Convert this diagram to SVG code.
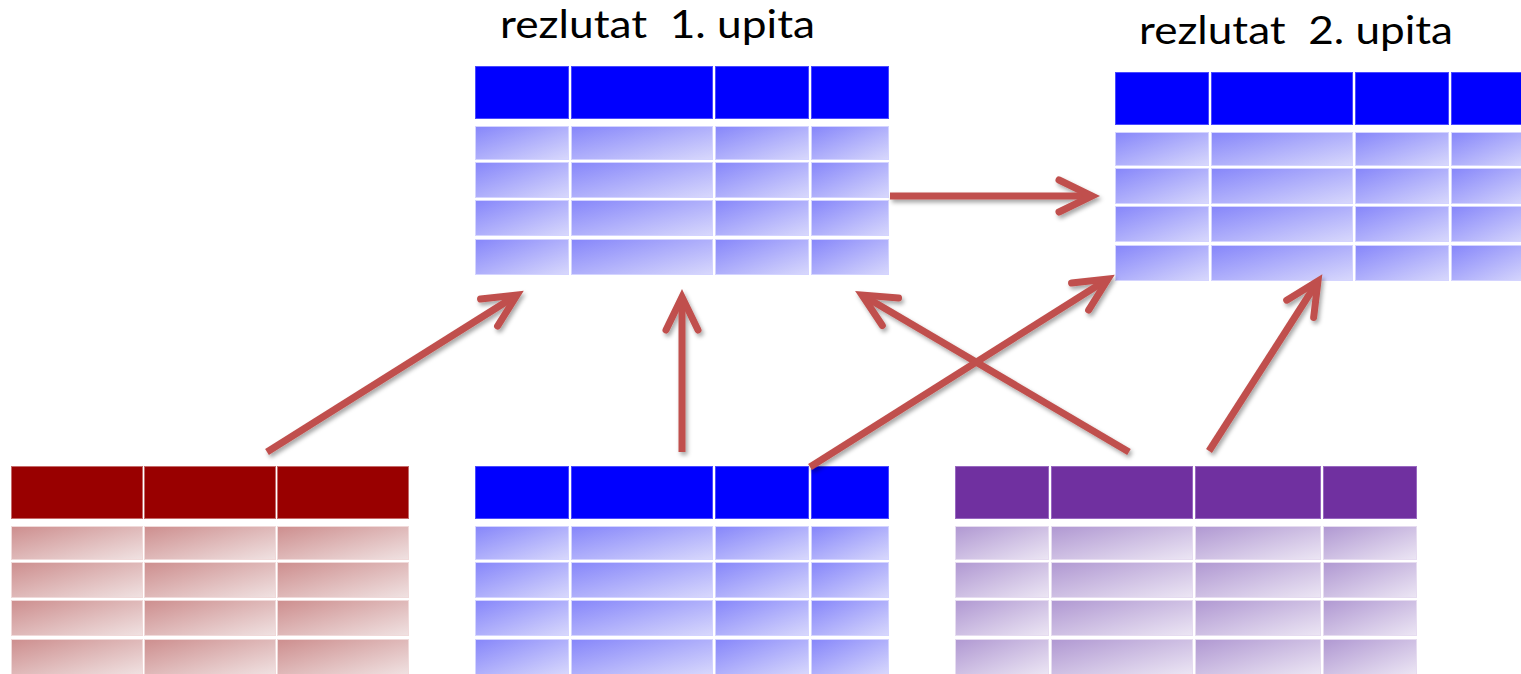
<svg xmlns="http://www.w3.org/2000/svg" width="1521" height="674" viewBox="0 0 1521 674">
<style>
.lbl{font-family:Lato,"Open Sans","Liberation Sans",sans-serif;font-size:38px;font-weight:400;fill:#000;white-space:pre}
.hb{fill:#0000FF;stroke:#4A4AFF;stroke-width:1}
.rb{fill:url(#gb);stroke:#D4D4FF;stroke-width:1}
.hr{fill:#990000;stroke:#C46A6A;stroke-width:1}
.rr{fill:url(#gr);stroke:#F0DADA;stroke-width:1}
.hp{fill:#7030A0;stroke:#9868C0;stroke-width:1}
.rp{fill:url(#gp);stroke:#E6DCF0;stroke-width:1}
.arr{fill:none;stroke:#C0504D;stroke-width:7;stroke-linecap:butt;marker-end:url(#ah)}
</style>
<defs>
<linearGradient id="gb" x1="0" y1="0" x2="1" y2="1"><stop offset="0" stop-color="#8686FA"/><stop offset="1" stop-color="#D8D8FC"/></linearGradient>
<linearGradient id="gr" x1="0" y1="0" x2="1" y2="1"><stop offset="0" stop-color="#CD8E8E"/><stop offset="1" stop-color="#F0E2E2"/></linearGradient>
<linearGradient id="gp" x1="0" y1="0" x2="1" y2="1"><stop offset="0" stop-color="#B098D2"/><stop offset="1" stop-color="#ECE6F4"/></linearGradient>
<marker id="ah" markerUnits="userSpaceOnUse" viewBox="-50 -30 60 60" refX="0" refY="0" markerWidth="60" markerHeight="60" orient="auto">
<path d="M-33,-16 L0,0 L-33,16" fill="none" stroke="#C0504D" stroke-width="7" stroke-linecap="round" stroke-linejoin="miter" stroke-miterlimit="10"/>
</marker>
<filter id="sh" x="-20%" y="-20%" width="140%" height="140%"><feDropShadow dx="2" dy="3" stdDeviation="2" flood-color="#000" flood-opacity="0.35"/></filter>
<g id="bluetable">
<rect class="hb" x="475.5" y="66.5" width="93" height="52"/>
<rect class="hb" x="571.5" y="66.5" width="141" height="52"/>
<rect class="hb" x="715.5" y="66.5" width="93" height="52"/>
<rect class="hb" x="811.5" y="66.5" width="77" height="52"/>
<rect class="rb" x="475.5" y="126.5" width="93" height="33"/>
<rect class="rb" x="571.5" y="126.5" width="141" height="33"/>
<rect class="rb" x="715.5" y="126.5" width="93" height="33"/>
<rect class="rb" x="811.5" y="126.5" width="77" height="33"/>
<rect class="rb" x="475.5" y="162.5" width="93" height="35"/>
<rect class="rb" x="571.5" y="162.5" width="141" height="35"/>
<rect class="rb" x="715.5" y="162.5" width="93" height="35"/>
<rect class="rb" x="811.5" y="162.5" width="77" height="35"/>
<rect class="rb" x="475.5" y="200.5" width="93" height="35"/>
<rect class="rb" x="571.5" y="200.5" width="141" height="35"/>
<rect class="rb" x="715.5" y="200.5" width="93" height="35"/>
<rect class="rb" x="811.5" y="200.5" width="77" height="35"/>
<rect class="rb" x="475.5" y="239.5" width="93" height="35"/>
<rect class="rb" x="571.5" y="239.5" width="141" height="35"/>
<rect class="rb" x="715.5" y="239.5" width="93" height="35"/>
<rect class="rb" x="811.5" y="239.5" width="77" height="35"/>
</g>
</defs>
<rect width="1521" height="674" fill="#fff"/>
<g id="label1"><text class="lbl" x="500" y="38" textLength="315" lengthAdjust="spacingAndGlyphs">rezlutat  1. upita</text></g>
<g id="label2"><text class="lbl" x="1139" y="44" textLength="314" lengthAdjust="spacingAndGlyphs">rezlutat  2. upita</text></g>
<g id="result1"><use href="#bluetable"/></g>
<g id="result2"><use href="#bluetable" transform="translate(640,6)"/></g>
<g id="table-blue"><use href="#bluetable" transform="translate(0,400)"/></g>
<g id="table-red">
<rect class="hr" x="11.5" y="466.5" width="131" height="52"/>
<rect class="hr" x="144.5" y="466.5" width="131" height="52"/>
<rect class="hr" x="277.5" y="466.5" width="131" height="52"/>
<rect class="rr" x="11.5" y="526.5" width="131" height="33"/>
<rect class="rr" x="144.5" y="526.5" width="131" height="33"/>
<rect class="rr" x="277.5" y="526.5" width="131" height="33"/>
<rect class="rr" x="11.5" y="562.5" width="131" height="35"/>
<rect class="rr" x="144.5" y="562.5" width="131" height="35"/>
<rect class="rr" x="277.5" y="562.5" width="131" height="35"/>
<rect class="rr" x="11.5" y="600.5" width="131" height="35"/>
<rect class="rr" x="144.5" y="600.5" width="131" height="35"/>
<rect class="rr" x="277.5" y="600.5" width="131" height="35"/>
<rect class="rr" x="11.5" y="639.5" width="131" height="35"/>
<rect class="rr" x="144.5" y="639.5" width="131" height="35"/>
<rect class="rr" x="277.5" y="639.5" width="131" height="35"/>
</g>
<g id="table-purple">
<rect class="hp" x="955.5" y="466.5" width="93" height="52"/>
<rect class="hp" x="1051.5" y="466.5" width="141" height="52"/>
<rect class="hp" x="1195.5" y="466.5" width="125" height="52"/>
<rect class="hp" x="1323.5" y="466.5" width="93" height="52"/>
<rect class="rp" x="955.5" y="526.5" width="93" height="33"/>
<rect class="rp" x="1051.5" y="526.5" width="141" height="33"/>
<rect class="rp" x="1195.5" y="526.5" width="125" height="33"/>
<rect class="rp" x="1323.5" y="526.5" width="93" height="33"/>
<rect class="rp" x="955.5" y="562.5" width="93" height="35"/>
<rect class="rp" x="1051.5" y="562.5" width="141" height="35"/>
<rect class="rp" x="1195.5" y="562.5" width="125" height="35"/>
<rect class="rp" x="1323.5" y="562.5" width="93" height="35"/>
<rect class="rp" x="955.5" y="600.5" width="93" height="35"/>
<rect class="rp" x="1051.5" y="600.5" width="141" height="35"/>
<rect class="rp" x="1195.5" y="600.5" width="125" height="35"/>
<rect class="rp" x="1323.5" y="600.5" width="93" height="35"/>
<rect class="rp" x="955.5" y="639.5" width="93" height="35"/>
<rect class="rp" x="1051.5" y="639.5" width="141" height="35"/>
<rect class="rp" x="1195.5" y="639.5" width="125" height="35"/>
<rect class="rp" x="1323.5" y="639.5" width="93" height="35"/>
</g>
<g id="connectors" filter="url(#sh)">
<path class="arr" d="M890,196 L1092,196"/>
<path class="arr" d="M267,452 L517,295"/>
<path class="arr" d="M682,452 L682,297"/>
<path class="arr" d="M1129,452 L862,295"/>
<path class="arr" d="M810,467 L1108,279"/>
<path class="arr" d="M1209,451 L1318,281"/>
</g>
</svg>
